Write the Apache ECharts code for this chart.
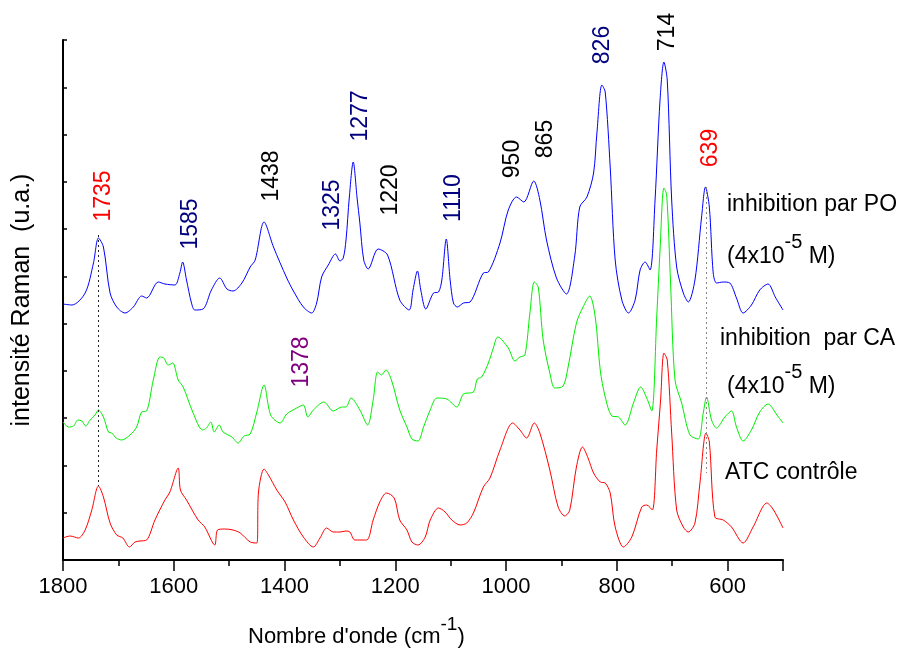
<!DOCTYPE html>
<html><head><meta charset="utf-8">
<script src="https://cdn.jsdelivr.net/npm/echarts@6/dist/echarts.min.js"></script>
<style>html,body{margin:0;padding:0;background:#fff}#c{width:901px;height:652px}</style>
</head><body><div id="c"></div>
<script>
const FONT = '"Liberation Sans", Arial, Helvetica, sans-serif';

// Inhibition par PO (blue)
const poWavenumber = [1800,1784,1760,1745,1736,1727,1715,1703,1688,1673,1658,1649,1628,1616,1598,1589,1584,1577,1568,1562,1547,1532,1517,1504,1493,1477,1462,1453,1437,1420,1396,1384,1366,1351,1342,1333,1321,1308,1300,1294,1289,1283,1276,1269,1264,1257,1249,1231,1214,1192,1175,1168,1160,1154,1145,1131,1122,1116,1108,1101,1095,1088,1077,1065,1041,1032,1011,996,981,968,950,939,927,909,891,876,867,854,842,836,827,821,812,803,791,779,767,758,749,740,731,722,715,709,701,692,680,671,659,647,640,633,626,620,608,596,584,572,557,542,527,514,500];
const poIntensity = [256,255,267,297,322,313,267,253,247,253,264,262,278,276,275,287,298,280,257,250,251,270,282,271,269,277,293,300,338,313,282,269,253,247,257,283,295,306,299,302,320,363,398,362,337,300,291,311,305,260,250,270,289,270,251,267,268,280,321,280,257,253,257,258,287,288,317,350,363,358,379,360,320,282,266,304,353,363,387,427,475,468,393,300,260,247,260,290,298,290,360,460,498,480,360,293,267,258,280,343,373,353,287,277,278,277,262,247,255,270,276,263,250];

// Inhibition par CA (green)
const caWavenumber = [1800,1790,1781,1773,1766,1759,1751,1742,1736,1727,1718,1712,1704,1694,1679,1667,1658,1649,1637,1625,1618,1610,1602,1592,1583,1565,1548,1541,1533,1527,1518,1511,1495,1484,1473,1462,1450,1437,1425,1408,1396,1378,1366,1358,1348,1329,1312,1297,1289,1280,1264,1250,1240,1232,1225,1217,1207,1192,1179,1170,1159,1149,1137,1125,1107,1089,1077,1059,1052,1044,1032,1023,1015,996,984,975,966,957,949,942,933,921,912,897,888,873,861,849,839,830,821,809,797,785,770,757,746,737,728,722,715,710,703,695,683,668,653,644,638,629,620,605,593,584,572,557,542,527,511,500];
const caIntensity = [138,133,134,140,139,134,140,145,150,143,128,127,122,120,125,133,148,149,180,203,202,195,197,180,173,147,130,132,138,128,135,128,123,117,124,126,148,175,145,137,146,152,155,143,150,158,149,153,153,162,150,135,160,188,185,190,180,150,133,121,119,133,150,162,161,153,166,168,181,183,197,212,223,212,199,203,205,247,278,273,220,187,172,174,193,237,253,264,243,190,163,144,143,135,157,173,162,149,243,310,372,365,277,180,157,125,121,147,163,140,132,143,149,133,119,130,148,156,145,137];

// ATC contrôle (red)
const atcWavenumber = [1800,1787,1772,1760,1748,1736,1727,1715,1703,1692,1680,1670,1661,1649,1634,1616,1607,1592,1588,1577,1556,1544,1526,1521,1508,1493,1480,1462,1450,1447,1437,1429,1414,1399,1384,1366,1348,1336,1324,1312,1300,1289,1282,1273,1252,1240,1228,1216,1202,1192,1179,1170,1159,1146,1137,1122,1110,1098,1083,1071,1059,1041,1029,1011,988,975,963,949,939,921,906,894,885,873,862,852,842,830,821,812,803,788,773,755,746,736,728,721,715,709,701,692,680,671,659,650,639,633,623,608,593,572,554,529,517,500];
const atcIntensity = [22,24,22,30,50,74,63,37,25,22,13,18,19,20,40,60,68,92,70,60,40,33,15,30,31,30,27,18,17,68,91,85,70,58,40,23,13,22,32,28,28,29,28,20,20,40,58,67,62,40,30,18,15,23,40,52,48,40,35,37,47,73,82,110,137,130,122,137,127,90,53,44,50,93,113,102,87,78,77,67,33,13,23,53,55,50,110,160,207,200,127,50,33,28,37,77,127,118,43,40,33,17,33,57,50,32];

// Peak annotations
const peakLabelText = ['1735','1585','1438','1325','1277','1220','1110','950','865','826','714','639','1378'];
const peakLabelWavenumber = [1727,1569,1423,1314,1262,1208,1094,988,928,825,708,630,1369];
const peakLabelHeight = [364,336,384,355,444,370,362,401,421,515,528,412,198];
const peakLabelColor = ['#ff0000','#000080','#000000','#000080','#000080','#000000','#000080','#000000','#000000','#000080','#000000','#ff0000','#800080'];

// Dotted guide lines
const guideWavenumber = [1736, 639];
const guideTop = [325, 373];
const guideBottom = [74, 87];
const guideColor = ['#222222', '#888888'];

// Axis ticks
const xLabelValues = [600, 800, 1000, 1200, 1400, 1600, 1800];
const xMajorTicks = [500, 600, 800, 1000, 1200, 1400, 1600, 1800];
const xMinorTicks = [700, 900, 1100, 1300, 1500, 1700];

const zip = (xs, ys) => xs.map((x, i) => [x, ys[i]]);

const chart = echarts.init(document.getElementById('c'), null, {renderer: 'canvas'});

const xBase = {
  type: 'value', min: 500, max: 1800, inverse: true, interval: 100,
  splitLine: {show: false}
};

const spectrum = (name, xs, ys, color) => ({
  type: 'line', name, data: zip(xs, ys), showSymbol: false, symbol: 'none',
  smooth: 0.3,
  lineStyle: {color, width: 1}, z: 3
});

chart.setOption({
  animation: false,
  backgroundColor: '#fff',
  grid: {left: 63, right: 118, top: 40, bottom: 92},
  xAxis: [
    Object.assign({}, xBase, {
      axisLine: {lineStyle: {color: '#000', width: 2}},
      axisTick: {customValues: xMajorTicks, length: 11, lineStyle: {color: '#000', width: 1.5}},
      axisLabel: {customValues: xLabelValues, fontSize: 22, fontFamily: FONT, color: '#000', margin: 16,
                  formatter: v => String(v)}
    }),
    Object.assign({}, xBase, {
      position: 'bottom',
      axisLine: {show: false},
      axisTick: {customValues: xMinorTicks, length: 6, lineStyle: {color: '#000', width: 1.5}},
      axisLabel: {show: false}
    })
  ],
  yAxis: {
    type: 'value', min: 0, max: 520, interval: 520 / 11,
    axisLine: {show: true, lineStyle: {color: '#000', width: 2}},
    axisTick: {show: true, inside: true, length: 4, lineStyle: {color: '#000', width: 1.5}},
    axisLabel: {show: false},
    splitLine: {show: false},
    name: 'intensité Raman  (u.a.)', nameLocation: 'middle', nameRotate: 90, nameGap: 28,
    nameTextStyle: {fontSize: 25, fontFamily: FONT, color: '#000'}
  },
  series: [
    spectrum('inhibition par PO', poWavenumber, poIntensity, '#0000ff'),
    spectrum('inhibition par CA', caWavenumber, caIntensity, '#00ee00'),
    spectrum('ATC contrôle', atcWavenumber, atcIntensity, '#ff0000'),
    {type: 'line', data: [], z: 2,
     markLine: {
       silent: true, symbol: ['none', 'none'], label: {show: false}, animation: false,
       data: guideWavenumber.map((w, i) => [
         {coord: [w, guideTop[i]], lineStyle: {color: guideColor[i], type: [2, 3], width: 1}},
         {coord: [w, guideBottom[i]]}
       ])
     }},
    {type: 'scatter', clip: false, symbolSize: 1, itemStyle: {color: 'rgba(0,0,0,0)'}, z: 5,
     data: peakLabelText.map((t, i) => ({
       name: t, value: [peakLabelWavenumber[i], peakLabelHeight[i]],
       label: {color: peakLabelColor[i]}
     })),
     label: {show: true, position: 'inside', rotate: 90, formatter: '{b}', fontSize: 23, fontFamily: FONT,
             align: 'center', verticalAlign: 'middle', textBorderWidth: 0, opacity: 1}}
  ],
  graphic: [
    {type: 'text', x: 727, y: 205, style: {text: 'inhibition par PO', fontSize: 23, fontFamily: FONT, fill: '#000', verticalAlign: 'middle'}},
    {type: 'text', x: 727, y: 257, style: {text: '(4x10{sup|-5} M)', fontSize: 23, fontFamily: FONT, fill: '#000', lineHeight: 50, verticalAlign: 'middle',
      rich: {sup: {fontSize: 20, fontFamily: FONT, fill: '#000', lineHeight: 20, verticalAlign: 'top'}}}},
    {type: 'text', x: 720, y: 339, style: {text: 'inhibition  par CA', fontSize: 23, fontFamily: FONT, fill: '#000', verticalAlign: 'middle'}},
    {type: 'text', x: 727, y: 387, style: {text: '(4x10{sup|-5} M)', fontSize: 23, fontFamily: FONT, fill: '#000', lineHeight: 50, verticalAlign: 'middle',
      rich: {sup: {fontSize: 20, fontFamily: FONT, fill: '#000', lineHeight: 20, verticalAlign: 'top'}}}},
    {type: 'text', x: 725, y: 473, style: {text: 'ATC contrôle', fontSize: 23, fontFamily: FONT, fill: '#000', verticalAlign: 'middle'}},
    {type: 'text', x: 248, y: 637, style: {text: "Nombre d'onde (cm{sup|-1})", fontSize: 22, fontFamily: FONT, fill: '#000', lineHeight: 43, verticalAlign: 'middle',
      rich: {sup: {fontSize: 19, fontFamily: FONT, fill: '#000', lineHeight: 19, verticalAlign: 'top'}}}}
  ]
});
</script>
</body></html>
